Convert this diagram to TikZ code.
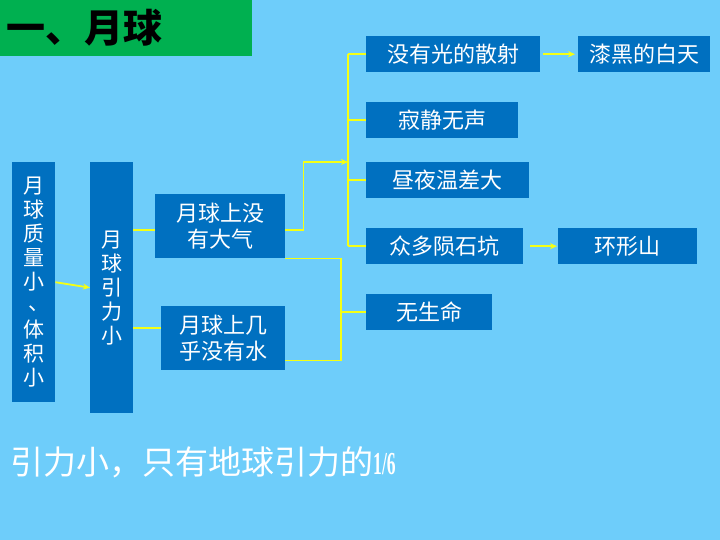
\documentclass[tikz,border=0pt]{standalone}
\usepackage{fontspec}
\newfontfamily\cjk{Noto Sans CJK SC}
\newfontfamily\numfont{Liberation Serif}
\usetikzlibrary{arrows.meta, calc}

\definecolor{skyback}{RGB}{110,205,250}
\definecolor{boxblue}{RGB}{0,112,192}
\definecolor{titlegreen}{RGB}{0,176,80}
\definecolor{linkyellow}{RGB}{245,255,20}

\begin{document}
\begin{tikzpicture}[x=1pt, y=-1pt, >={Stealth[length=7pt,width=6pt]},
    box/.style={fill=boxblue, text=white, inner sep=0pt, anchor=north west, align=center,
        font=\cjk\fontsize{22}{26}\selectfont},
    tallbox/.style={box, font=\cjk\fontsize{21}{24}\selectfont},
    link/.style={linkyellow, line width=1.8pt}]

    % Background and title
    \fill[skyback] (0,0) rectangle (720,540);
    \useasboundingbox (0,0) rectangle (720,540);
    \node[fill=titlegreen, anchor=north west, minimum height=56pt, text width=240pt,
        inner xsep=6pt, inner ysep=0pt, align=left,
        font=\cjk\bfseries\fontsize{39}{42}\selectfont] (title) at (0,0) {一、月球};

    % Causes
    \node[tallbox, minimum width=43pt, minimum height=240pt] (mass) at (12,162)
        {月\\球\\质\\量\\小\\\raisebox{3pt}{\hspace{10pt}、}\\体\\积\\小};
    \node[tallbox, minimum width=43pt, minimum height=251pt] (grav) at (90,162)
        {月\\球\\引\\力\\小};
    \node[box, minimum width=130pt, minimum height=64pt] (atm) at (155,194) {月球上没\\有大气};
    \node[box, minimum width=124pt, minimum height=64pt] (water) at (161,306) {月球上几\\乎没有水};

    % Effects
    \node[box, minimum width=174pt, minimum height=36pt] (scatter) at (366,36) {没有光的散射};
    \node[box, minimum width=152pt, minimum height=36pt] (quiet) at (366,102) {寂静无声};
    \node[box, minimum width=163pt, minimum height=36pt] (tempdiff) at (366,162) {昼夜温差大};
    \node[box, minimum width=157pt, minimum height=36pt] (crater) at (366,228) {众多陨石坑};
    \node[box, minimum width=126pt, minimum height=36pt] (lifeless) at (366,294) {无生命};
    \node[box, minimum width=132pt, minimum height=36pt] (darksky) at (578,36) {漆黑的白天};
    \node[box, minimum width=139pt, minimum height=36pt] (ringmtn) at (558,228) {环形山};

    % Note
    \node[anchor=west, inner sep=0pt, text=white, font=\cjk\fontsize{33}{35}\selectfont] (note) at (10,462)
        {引力小，只有地球引力的{\numfont\bfseries\fontsize{32}{34}\selectfont\scalebox{0.55}[1]{1/6}}};

    % Links from the causes
    \draw[link, ->] (mass.east) -- (grav.west);
    \coordinate (atmin) at ([yshift=-4pt]atm.west);
    \coordinate (waterin) at ([yshift=10pt]water.west);
    \draw[link] (atmin -| grav.east) -- (atmin);
    \draw[link] (waterin -| grav.east) -- (waterin);

    % No atmosphere
    \coordinate (bus) at ([xshift=-18pt]scatter.west);
    \draw[link, ->] ([yshift=-4pt]atm.east) -- ++(18,0) |- (bus |- tempdiff.north);
    \draw[link] (bus) -- (bus |- crater.west);
    \foreach \n in {scatter, quiet, tempdiff, crater}
        \draw[link] (bus |- \n.west) -- (\n.west);

    % No air and no water
    \coordinate (join) at ([xshift=-25pt]lifeless.west);
    \draw[link] (atm.south east) -| (join) |- ([yshift=10pt]water.south east);
    \draw[link] (join) -- (lifeless.west);

    % Further effects
    \draw[link, ->, shorten <=3pt, shorten >=3pt] (scatter.east) -- (darksky.west);
    \draw[link, ->, shorten <=7pt, shorten >=1pt] (crater.east) -- (ringmtn.west);
\end{tikzpicture}
\end{document}
